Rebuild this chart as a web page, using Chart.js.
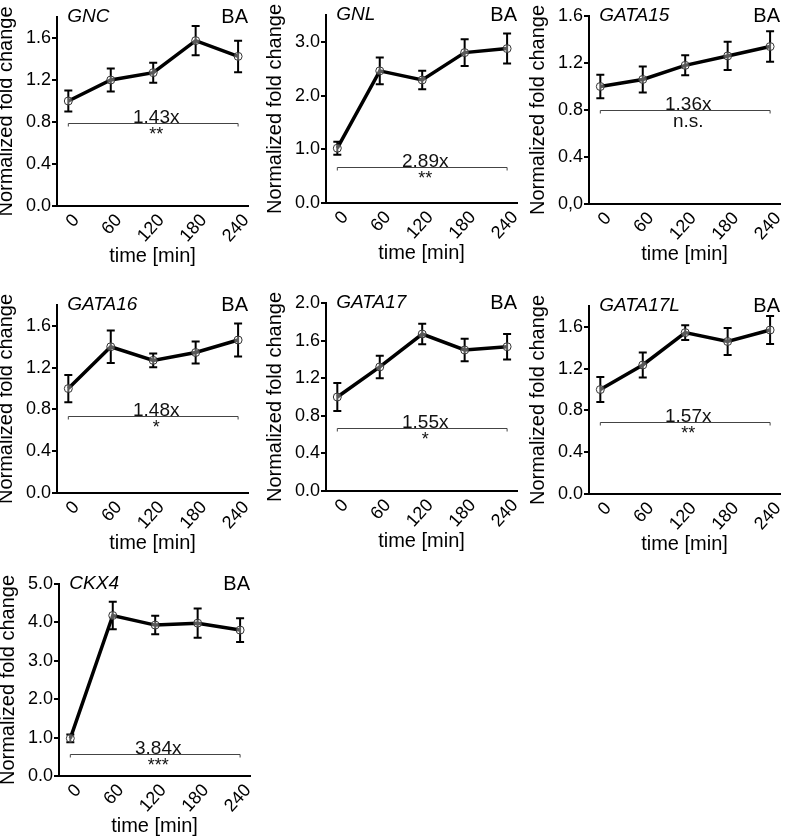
<!DOCTYPE html>
<html>
<head>
<meta charset="utf-8">
<script src="https://cdn.jsdelivr.net/npm/chart.js@4.4.1/dist/chart.umd.min.js"></script>
<style>
  html, body { margin: 0; padding: 0; background: #fff; }
  body { width: 789px; height: 839px; position: relative; overflow: hidden; }
  canvas { position: absolute; }
</style>
</head>
<body>
<script>
// ---- data ----
const timePoints = [0, 60, 120, 180, 240];

const gncMean     = [1.00, 1.20, 1.27, 1.575, 1.425];
const gncErr      = [0.10, 0.11, 0.095, 0.14, 0.15];
const gnlMean     = [1.02, 2.46, 2.29, 2.80, 2.875];
const gnlErr      = [0.12, 0.25, 0.17, 0.25, 0.28];
const gata15Mean  = [1.00, 1.06, 1.18, 1.26, 1.34];
const gata15Err   = [0.10, 0.11, 0.085, 0.12, 0.13];
const gata16Mean  = [1.00, 1.40, 1.27, 1.345, 1.465];
const gata16Err   = [0.13, 0.155, 0.065, 0.105, 0.157];
const gata17Mean  = [1.00, 1.32, 1.67, 1.50, 1.535];
const gata17Err   = [0.15, 0.12, 0.11, 0.12, 0.135];
const gata17lMean = [1.00, 1.235, 1.545, 1.46, 1.57];
const gata17lErr  = [0.12, 0.12, 0.07, 0.13, 0.135];
const ckx4Mean    = [0.98, 4.18, 3.93, 3.98, 3.80];
const ckx4Err     = [0.10, 0.36, 0.24, 0.38, 0.31];

const geneNames   = ["GNC", "GNL", "GATA15", "GATA16", "GATA17", "GATA17L", "CKX4"];
const foldLabels  = ["1.43x", "2.89x", "1.36x", "1.48x", "1.55x", "1.57x", "3.84x"];
const sigLabels   = ["**", "**", "n.s.", "*", "*", "**", "***"];
const bracketAt   = [0.79, 0.675, 0.80, 0.74, 0.665, 0.69, 0.56];
const yMaxes      = [1.8, 3.5, 1.6, 1.8, 2.0, 1.8, 5.0];

const ticks16      = ["0.0", "0.4", "0.8", "1.2", "1.6"];
const ticks16comma = ["0,0", "0.4", "0.8", "1.2", "1.6"];
const ticks30      = ["0.0", "1.0", "2.0", "3.0"];
const ticks20      = ["0.0", "0.4", "0.8", "1.2", "1.6", "2.0"];
const ticks50      = ["0.0", "1.0", "2.0", "3.0", "4.0", "5.0"];

const panels = [
  { mean: gncMean,     err: gncErr,     yLabels: ticks16 },
  { mean: gnlMean,     err: gnlErr,     yLabels: ticks30 },
  { mean: gata15Mean,  err: gata15Err,  yLabels: ticks16comma },
  { mean: gata16Mean,  err: gata16Err,  yLabels: ticks16 },
  { mean: gata17Mean,  err: gata17Err,  yLabels: ticks20 },
  { mean: gata17lMean, err: gata17lErr, yLabels: ticks16 },
  { mean: ckx4Mean,    err: ckx4Err,    yLabels: ticks50 }
];

// ---- page layout (axis corner of each small plot) ----
const slots = [
  { axisX: 57,  top: 17,  bottom: 206 },
  { axisX: 326, top: 15,  bottom: 203 },
  { axisX: 589, top: 16,  bottom: 204 },
  { axisX: 57,  top: 305, bottom: 493 },
  { axisX: 326, top: 303, bottom: 491 },
  { axisX: 589, top: 306, bottom: 494 },
  { axisX: 59,  top: 584, bottom: 776 }
];

const FONT = "'Liberation Sans', Arial, Helvetica, sans-serif";
const PAD_TOP = 12, PAD_RIGHT = 20, YAXIS_W = 63, XAXIS_H = 66, PLOT_W = 191;

Chart.defaults.font.family = FONT;
Chart.defaults.color = "#000";

function makeDecor(i) {
  const p = panels[i];
  return {
    id: "decor" + i,
    beforeDatasetsDraw(chart) {
      const { ctx, scales: { x, y } } = chart;
      ctx.save();
      ctx.strokeStyle = "#000";
      ctx.lineWidth = 2;
      timePoints.forEach((t, j) => {
        const px = x.getPixelForValue(t);
        const hi = y.getPixelForValue(p.mean[j] + p.err[j]);
        const lo = y.getPixelForValue(p.mean[j] - p.err[j]);
        ctx.beginPath();
        ctx.moveTo(px, hi); ctx.lineTo(px, lo);
        ctx.moveTo(px - 4, hi); ctx.lineTo(px + 4, hi);
        ctx.moveTo(px - 4, lo); ctx.lineTo(px + 4, lo);
        ctx.stroke();
      });
      ctx.restore();
    },
    afterDraw(chart) {
      const { ctx, chartArea, scales: { x, y } } = chart;
      ctx.save();
      // bracket
      const x0 = x.getPixelForValue(timePoints[0]);
      const x1 = x.getPixelForValue(timePoints[timePoints.length - 1]);
      const by = Math.round(y.getPixelForValue(bracketAt[i])) + 0.5;
      ctx.strokeStyle = "#444";
      ctx.lineWidth = 1;
      ctx.beginPath();
      ctx.moveTo(x0, by + 3); ctx.lineTo(x0, by);
      ctx.lineTo(x1, by); ctx.lineTo(x1, by + 3);
      ctx.stroke();
      ctx.fillStyle = "#111";
      ctx.textAlign = "center";
      ctx.textBaseline = "alphabetic";
      const cx = (x0 + x1) / 2 + 3;
      ctx.font = "19px " + FONT;
      ctx.fillText(foldLabels[i], cx, by - 1);
      ctx.font = (sigLabels[i] === "n.s." ? "19px " : "18px ") + FONT;
      ctx.fillText(sigLabels[i], cx, by + 16);
      // gene name and treatment
      ctx.fillStyle = "#000";
      ctx.textBaseline = "middle";
      ctx.textAlign = "left";
      ctx.font = "italic 19px " + FONT;
      ctx.fillText(geneNames[i], x0 - 1, chartArea.top);
      ctx.textAlign = "right";
      ctx.font = "20px " + FONT;
      ctx.fillText("BA", chartArea.right, chartArea.top);
      ctx.restore();
    }
  };
}

slots.forEach((s, i) => {
  const p = panels[i];
  const w = YAXIS_W + PLOT_W + PAD_RIGHT;
  const h = PAD_TOP + (s.bottom - s.top) + XAXIS_H;
  const cv = document.createElement("canvas");
  cv.width = w; cv.height = h;
  cv.style.width = w + "px"; cv.style.height = h + "px";
  cv.style.left = (s.axisX - YAXIS_W) + "px";
  cv.style.top = (s.top - PAD_TOP) + "px";
  document.body.appendChild(cv);

  new Chart(cv, {
    type: "line",
    data: {
      datasets: [{
        data: timePoints.map((t, j) => ({ x: t, y: p.mean[j] })),
        borderColor: "#000",
        borderWidth: 3.5,
        tension: 0,
        pointRadius: 4,
        pointBorderWidth: 1,
        pointBorderColor: "#333",
        pointBackgroundColor: "rgba(255,255,255,0.35)"
      }]
    },
    options: {
      responsive: false,
      devicePixelRatio: 1,
      animation: false,
      layout: { padding: { top: PAD_TOP, right: PAD_RIGHT, bottom: 0, left: 0 } },
      plugins: { legend: { display: false }, tooltip: { enabled: false } },
      scales: {
        x: {
          type: "linear",
          min: -16,
          max: 254,
          afterBuildTicks: sc => { sc.ticks = timePoints.map(v => ({ value: v })); },
          afterFit: sc => { sc.height = XAXIS_H; },
          grid: { display: false, drawTicks: false },
          border: { display: true, color: "#000", width: 2 },
          ticks: {
            color: "#000",
            font: { size: 18 },
            minRotation: 48,
            maxRotation: 48,
            padding: 4,
            labelOffset: 8,
            autoSkip: false,
            callback: v => String(v)
          },
          title: {
            display: true,
            text: "time [min]",
            color: "#000",
            font: { size: 20 },
            padding: { top: 0, bottom: 4 }
          }
        },
        y: {
          min: 0,
          max: yMaxes[i],
          afterBuildTicks: sc => {
            sc.ticks = p.yLabels.map(l => ({ value: parseFloat(l.replace(",", ".")) }));
          },
          afterFit: sc => { sc.width = YAXIS_W; },
          grid: { display: true, drawOnChartArea: false, drawTicks: true, tickLength: 5, color: "#000", lineWidth: 2 },
          border: { display: true, color: "#000", width: 2 },
          ticks: {
            color: "#000",
            font: { size: 18 },
            padding: 1,
            callback: (v, idx) => p.yLabels[idx]
          },
          title: {
            display: true,
            text: "Normalized fold change",
            color: "#000",
            font: { size: 20 },
            padding: { top: 0, bottom: 0 }
          }
        }
      }
    },
    plugins: [makeDecor(i)]
  });
});
</script>
</body>
</html>
